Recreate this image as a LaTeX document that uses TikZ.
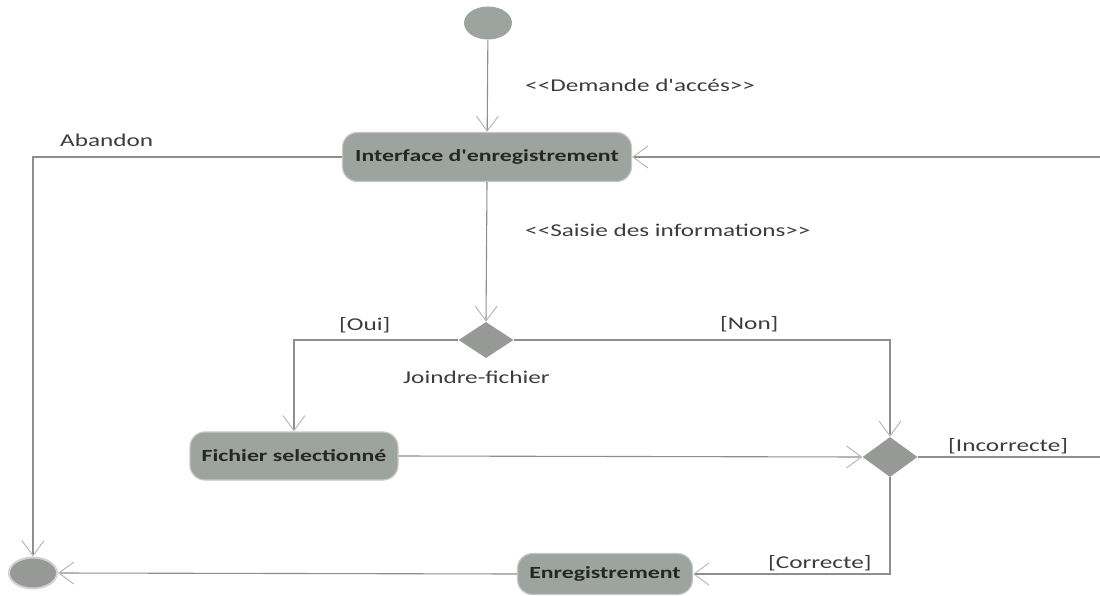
\documentclass[tikz,border=0pt]{standalone}
\usepackage{fontspec}
\newfontfamily\lblfont{Carlito}[FakeStretch=1.4]
\usetikzlibrary{arrows.meta,shapes.geometric}
\definecolor{nodegray}{HTML}{9DA49F}
\definecolor{diagray}{HTML}{979997}
\definecolor{linegray}{HTML}{8E8E8E}
\definecolor{tipgray}{HTML}{B8B8B8}
\definecolor{txtgray}{HTML}{3C3C3C}
\begin{document}
\begin{tikzpicture}[x=1pt,y=-1pt,
  action/.style={draw=gray!45,line width=1.2pt,fill=nodegray,rounded corners=15pt,
    inner sep=0pt,font=\lblfont\fontsize{17}{20}\selectfont\bfseries,text=black!85},
  decision/.style={diamond,fill=diagray,inner sep=0pt,aspect=1.4},
  startnode/.style={ellipse,fill=nodegray,inner sep=0pt,minimum width=48pt,minimum height=33pt},
  endnode/.style={ellipse,fill=diagray,draw=gray!35,line width=2pt,inner sep=0pt,minimum width=48pt,minimum height=31pt},
  flow/.style={draw=linegray,line width=1.1pt,-{Straight Barb[length=15pt,width=22pt,color=tipgray,line width=1pt]}},
  plain/.style={draw=linegray,line width=1.1pt},
  lbl/.style={font=\lblfont\fontsize{18}{21}\selectfont,text=txtgray,anchor=west,inner sep=0pt}]
\useasboundingbox (0,0) rectangle (1100,596);

\node[startnode] (init) at (488,23) {};
\node[action,minimum width=289pt,minimum height=49pt] (iface) at (487,157) {Interface d'enregistrement};
\node[decision,minimum width=55pt,minimum height=36pt] (d1) at (486,340) {};
\node[action,minimum width=208pt,minimum height=48pt] (fich) at (294,456) {Fichier selectionné};
\node[decision,minimum width=55pt,minimum height=40pt] (d2) at (890,457) {};
\node[action,minimum width=175pt,minimum height=41pt] (enr) at (605,574) {Enregistrement};
\node[endnode] (final) at (33,573) {};
\coordinate (rc) at (1101,457);

\draw[flow] (init) -- (iface);
\draw[flow] (iface.west) -| (final.north);
\draw[flow] (iface.south) -- (d1.north);
\draw[flow] (d1.west) -| (fich.north);
\draw[flow] (d1.east) -| (d2.north);
\draw[flow] (fich.east) -- (d2.west);
\draw[plain] (d2.east) -- (rc);
\draw[flow] (rc) |- (iface.east);
\draw[flow] (d2.south) |- (enr.east);
\draw[flow] (enr.west) -- (final.east);

\node[lbl] (l1) at (525,85) {<{}<Demande d'accés>{}>};
\node[lbl] (l2) at (525,230) {<{}<Saisie des informations>{}>};
\node[lbl] (l3) at (60,140) {Abandon};
\node[lbl] (l4) at (339,325) {[Oui]};
\node[lbl] (l5) at (720,324) {[Non]};
\node[lbl] (l6) at (403,377) {Joindre-fichier};
\node[lbl] (l7) at (948,446) {[Incorrecte]};
\node[lbl] (l8) at (768,563) {[Correcte]};
\end{tikzpicture}
\end{document}
